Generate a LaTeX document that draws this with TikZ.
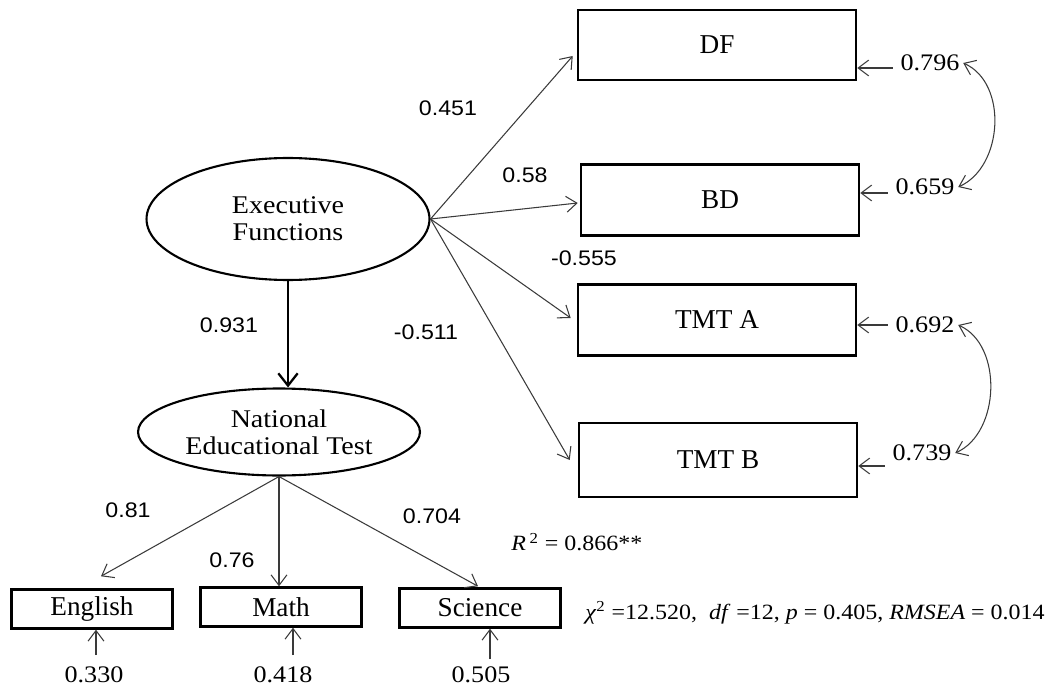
\documentclass[tikz,border=0pt]{standalone}
\usepackage{fontspec}
\setmainfont{Liberation Serif}
\setsansfont{Liberation Sans}
\newfontfamily\numfont[FakeStretch=1.1]{Liberation Sans}
\newfontfamily\errfont[FakeStretch=1.1]{Liberation Serif}
\usetikzlibrary{calc,arrows.meta,shapes.geometric}
\definecolor{ink}{HTML}{000000}
\definecolor{wire}{HTML}{3A3A3A}
\tikzset{
  latent/.style={ellipse, draw=ink, line width=1.2pt, inner sep=0pt, align=center,
    font=\fontsize{14.5}{15.5}\errfont},
  measure/.style={rectangle, draw=ink, line width=1.5pt, inner sep=0pt,
    minimum width=5.56cm, minimum height=1.42cm, font=\fontsize{15.5}{18}\selectfont},
  subject/.style={rectangle, draw=ink, line width=1.4pt, inner sep=0pt,
    minimum width=3.22cm, minimum height=0.78cm, font=\fontsize{15.5}{18}\selectfont},
  load/.style={draw=wire, line width=0.6pt, -{Straight Barb[length=6pt,width=9pt]}},
  mainload/.style={draw=ink, line width=1.3pt, -{Straight Barb[length=7pt,width=11pt]}},
  errarrow/.style={draw=wire, line width=0.6pt, -{Straight Barb[length=6pt,width=9pt]}},
  covar/.style={draw=wire, line width=0.6pt,
    {Straight Barb[length=6pt,width=9pt]}-{Straight Barb[length=6pt,width=9pt]}},
  coef/.style={font=\fontsize{12}{14}\numfont, inner sep=1pt},
  errlab/.style={font=\fontsize{13.5}{16}\errfont, inner sep=2pt},
  stat/.style={font=\fontsize{12.4}{16}\errfont, inner sep=0pt, anchor=west},
}

\begin{document}
\begin{tikzpicture}[x=0.02cm, y=-0.02cm]
  \useasboundingbox (0,0) rectangle (1062,686);
  % latent variables
  \node[latent, minimum width=5.66cm, minimum height=2.44cm] (EF) at (288,219) {Executive\\Functions};
  \node[latent, minimum width=5.64cm, minimum height=1.74cm] (NET) at (279,432) {National\\Educational Test};
  % executive function measures
  \node[measure, minimum height=1.40cm] (DF) at (717,45) {DF};
  \node[measure] (BD) at (720,200) {BD};
  \node[measure] (TMTA) at (717,320) {TMT A};
  \node[measure, minimum height=1.48cm] (TMTB) at (718,460) {TMT B};
  % school subjects
  \node[subject] (English) at (92,609) {English};
  \node[subject] (Math) at (281,607) {Math};
  \node[subject] (Science) at (480,608) {Science};

  \draw[mainload] (EF.south) -- (EF.south |- NET.north);
  \draw[load] (EF.east) -- ($(DF.west)+(-4,11)$);
  \draw[load] (EF.east) -- ($(BD.west)+(-2,3)$);
  \draw[load] (EF.east) -- ($(TMTA.west)+(-6,-2)$);
  \draw[load] (EF.east) -- ($(TMTB.west)+(-8,0)$);
  \draw[load] (NET.south) -- ($(English.north)+(9,-12)$);
  \draw[load] (NET.south) -- (NET.south |- Math.north);
  \draw[load] (NET.south) -- ($(Science.north)+(-2,-1)$);

  % path coefficients
  \node[coef] at (448,108) {0.451};
  \node[coef] at (525,175) {0.58};
  \node[coef] at (584,258) {-0.555};
  \node[coef] at (426,332) {-0.511};
  \node[coef] at (229,325) {0.931};
  \node[coef] at (128,510) {0.81};
  \node[coef] at (232,560) {0.76};
  \node[coef] at (432,516) {0.704};

  % error terms, right
  \node[errlab] (e796) at (930,63) {0.796};
  \node[errlab] (e659) at (925,187) {0.659};
  \node[errlab] (e692) at (925,325) {0.692};
  \node[errlab] (e739) at (922,453) {0.739};
  \coordinate (u796) at ($(e796.west)+(-4,5)$);
  \coordinate (u659) at ($(e659.west)+(-4,6)$);
  \coordinate (u692) at ($(e692.west)+(-4,0)$);
  \coordinate (u739) at ($(e739.west)+(-4,13)$);
  \draw[errarrow] (u796) -- (u796 -| DF.east);
  \draw[errarrow] (u659) -- (u659 -| BD.east);
  \draw[errarrow] (u692) -- (u692 -| TMTA.east);
  \draw[errarrow] (u739) -- (u739 -| TMTB.east);
  \draw[covar] (e796.east) .. controls +(45,20) and +(45,-20) .. (e659.east);
  \draw[covar] (e692.east) .. controls +(45,20) and +(45,-20) .. (e739.east);

  % error terms, bottom
  \node[errlab] (e330) at (94,675) {0.330};
  \node[errlab] (e418) at (283,675) {0.418};
  \node[errlab] (e505) at (481,675) {0.505};
  \coordinate (u330) at (96,655);
  \coordinate (u418) at (293,655);
  \coordinate (u505) at (490,659);
  \draw[errarrow] (u330) -- (u330 |- English.south);
  \draw[errarrow] (u418) -- (u418 |- Math.south);
  \draw[errarrow] (u505) -- (u505 |- Science.south);

  % fit statistics
  \node[stat] (rsq) at (511,542) {\textit{R}\,\textsuperscript{2} = 0.866**};
  \node[stat] (fit) at (585,613) {\textit{χ}\textsuperscript{2} =12.520,\ \ \textit{df} =12, \textit{p} = 0.405, \textit{RMSEA} = 0.014};
\end{tikzpicture}
\end{document}
